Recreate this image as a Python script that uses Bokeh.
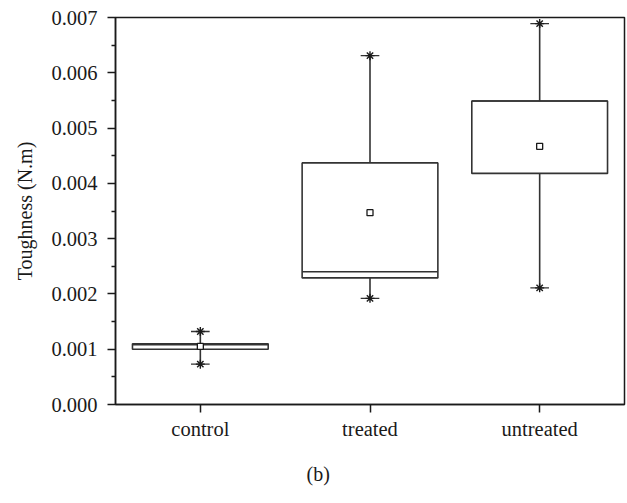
from bokeh.plotting import figure
from bokeh.models import (ColumnDataSource, FactorRange, FixedTicker,
                          NumeralTickFormatter, Range1d, Title)
from bokeh.transform import dodge
from bokeh.embed import file_html
from bokeh.resources import INLINE

# Toughness box-plot summaries per group (N.m)
categories = ["control", "treated", "untreated"]
q1 = [0.00100, 0.00229, 0.00418]
median = [0.00108, 0.00240, 0.00549]
q3 = [0.00110, 0.00437, 0.00549]
whisker_low = [0.00073, 0.00192, 0.00211]
whisker_high = [0.00132, 0.00631, 0.00689]
means = [0.00105, 0.00347, 0.00467]

y_ticks = [0.000, 0.001, 0.002, 0.003, 0.004, 0.005, 0.006, 0.007]
y_minor = [0.0005, 0.0015, 0.0025, 0.0035, 0.0045, 0.0055, 0.0065]

FONT = "Liberation Serif"
INK = "#1a1a1a"
BOX = "#333333"

src = ColumnDataSource(dict(cat=categories, q1=q1, med=median, q3=q3,
                            lo=whisker_low, hi=whisker_high, mean=means))

p = figure(x_range=FactorRange(factors=categories), y_range=Range1d(0, 0.007),
           width=627, height=503, output_backend="svg", toolbar_location=None,
           min_border_left=115, min_border_right=3, min_border_top=17,
           min_border_bottom=99)
p.background_fill_color = "white"
p.border_fill_color = "white"
p.grid.visible = False
p.outline_line_color = INK
p.outline_line_width = 1.5

# boxes
p.vbar(x="cat", width=0.8, bottom="q1", top="q3", source=src,
       fill_color=None, line_color=BOX, line_width=1.6)
# median lines
p.segment(x0=dodge("cat", -0.4, range=p.x_range), x1=dodge("cat", 0.4, range=p.x_range),
          y0="med", y1="med", source=src, line_color=BOX, line_width=1.6)
# whiskers
p.segment(x0="cat", x1="cat", y0="q3", y1="hi", source=src, line_color=BOX, line_width=1.6)
p.segment(x0="cat", x1="cat", y0="lo", y1="q1", source=src, line_color=BOX, line_width=1.6)
# caps
for col in ("hi", "lo"):
    p.segment(x0=dodge("cat", -0.055, range=p.x_range), x1=dodge("cat", 0.055, range=p.x_range),
              y0=col, y1=col, source=src, line_color=BOX, line_width=1.4)
    p.scatter(x="cat", y=col, marker="asterisk", size=9, source=src,
              line_color=INK, line_width=1.4)
# mean markers
p.scatter(x="cat", y="mean", marker="square", size=6, source=src,
          fill_color="white", line_color=INK, line_width=1.3)

# axes
p.yaxis.ticker = FixedTicker(ticks=y_ticks, minor_ticks=y_minor)
p.yaxis.formatter = NumeralTickFormatter(format="0.000")
p.yaxis.axis_label = "Toughness (N.m)"
for ax in (p.xaxis[0], p.yaxis[0]):
    ax.axis_line_color = INK
    ax.axis_line_width = 1.5
    ax.major_tick_line_color = INK
    ax.major_tick_line_width = 1.5
    ax.major_tick_out = 8
    ax.major_tick_in = 0
    ax.major_label_text_font = FONT
    ax.major_label_text_font_size = "20.5px"
    ax.major_label_text_color = INK
    ax.axis_label_text_font = FONT
    ax.axis_label_text_font_size = "20px"
    ax.axis_label_text_font_style = "normal"
    ax.axis_label_text_color = INK
p.yaxis.minor_tick_line_color = INK
p.yaxis.minor_tick_line_width = 1.5
p.yaxis.minor_tick_out = 4
p.yaxis.minor_tick_in = 0
p.yaxis.major_label_standoff = 10
p.yaxis.axis_label_standoff = 12
p.xaxis.major_label_standoff = 5
p.xaxis.minor_tick_line_color = None

# panel caption under the axis
p.add_layout(Title(text="(b)", align="left", offset=191, standoff=36,
                   text_font=FONT, text_font_size="20px", text_font_style="normal",
                   text_color=INK), "below")

open("out.html", "w").write(file_html(p, INLINE))
